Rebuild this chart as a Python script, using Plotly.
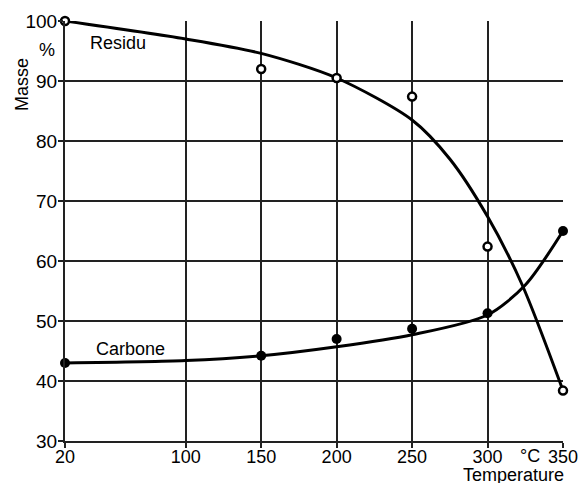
import plotly.graph_objects as go

temperature = [20, 150, 200, 250, 300, 350]
residu_pts = [100, 92.0, 90.5, 87.4, 62.4, 38.4]
carbone_pts = [43.0, 44.2, 47.0, 48.7, 51.3, 65.0]

residu_curve_x = [20, 100, 150, 200, 250, 275, 300, 323, 350]
residu_curve_y = [100, 97.0, 94.6, 90.5, 83.5, 77.0, 67.4, 56.0, 38.4]
carbone_curve_x = [20, 100, 150, 200, 250, 300, 325, 350]
carbone_curve_y = [43.0, 43.4, 44.2, 45.7, 47.7, 51.0, 56.0, 65.0]

x_ticks = [20, 100, 150, 200, 250, 300, 350]
y_ticks = [30, 40, 50, 60, 70, 80, 90, 100]

W, H = 578, 485
ML, MR, MT, MB = 65, 15, 21, 44

font = dict(family="Liberation Sans, Arial, sans-serif", size=18, color="black")
tfont = dict(family="Liberation Sans, Arial, sans-serif", size=19, color="black")
xfont = dict(family="Liberation Sans, Arial, sans-serif", size=18, color="black")

fig = go.Figure()
fig.add_trace(go.Scatter(x=residu_curve_x, y=residu_curve_y, mode="lines",
                         line=dict(color="black", width=3, shape="spline", smoothing=0.8),
                         showlegend=False, hoverinfo="skip"))
fig.add_trace(go.Scatter(x=carbone_curve_x, y=carbone_curve_y, mode="lines",
                         line=dict(color="black", width=3, shape="spline", smoothing=0.8),
                         showlegend=False, hoverinfo="skip"))
fig.add_trace(go.Scatter(x=temperature, y=residu_pts, mode="markers", name="Residu",
                         marker=dict(symbol="circle", size=8, color="white",
                                     line=dict(color="black", width=2.5)),
                         showlegend=False, cliponaxis=False))
fig.add_trace(go.Scatter(x=temperature, y=carbone_pts, mode="markers", name="Carbone",
                         marker=dict(symbol="circle", size=10, color="black"),
                         showlegend=False, cliponaxis=False))

pw, ph = W - ML - MR, H - MT - MB


def ann(text, px, py, angle=0, f=font, **kw):
    return dict(text=text, xref="paper", yref="paper",
                x=(px - ML) / pw, y=1 - (py - MT) / ph,
                xanchor="center", yanchor="middle", showarrow=False,
                textangle=angle, font=f, borderpad=0, **kw)


fig.update_layout(
    width=W, height=H,
    margin=dict(l=ML, r=MR, t=MT, b=MB, autoexpand=False),
    paper_bgcolor="white", plot_bgcolor="white",
    font=font,
    xaxis=dict(range=[20, 350], tickvals=x_ticks, ticktext=[str(v) for v in x_ticks],
               showgrid=True, gridcolor="#222", gridwidth=1.5,
               showline=True, linecolor="#222", linewidth=2,
               ticks="outside", ticklen=5, tickcolor="#222", tickwidth=2,
               zeroline=False, tickfont=xfont, automargin=False,
               ticklabeloverflow="allow", ticklabelstandoff=-7),
    yaxis=dict(range=[30, 100], tickvals=y_ticks,
               showgrid=True, gridcolor="#222", gridwidth=1.5,
               showline=True, linecolor="#222", linewidth=2,
               ticks="outside", ticklen=5, tickcolor="#222", tickwidth=2,
               zeroline=False, tickfont=tfont, automargin=False,
               ticklabeloverflow="allow", ticklabelstandoff=-3),
    annotations=[
        ann("Masse", 22, 85, angle=-90),
        ann("%", 47, 50),
        ann("Residu", 118, 43),
        ann("Carbone", 130, 349),
        ann("°C", 530, 456),
        ann("Temperature", 513, 475, height=16),
    ],
)

fig.write_html("out.html", config={"displayModeBar": False},
               post_script="document.body.style.margin='0';document.body.style.overflow='hidden';")
